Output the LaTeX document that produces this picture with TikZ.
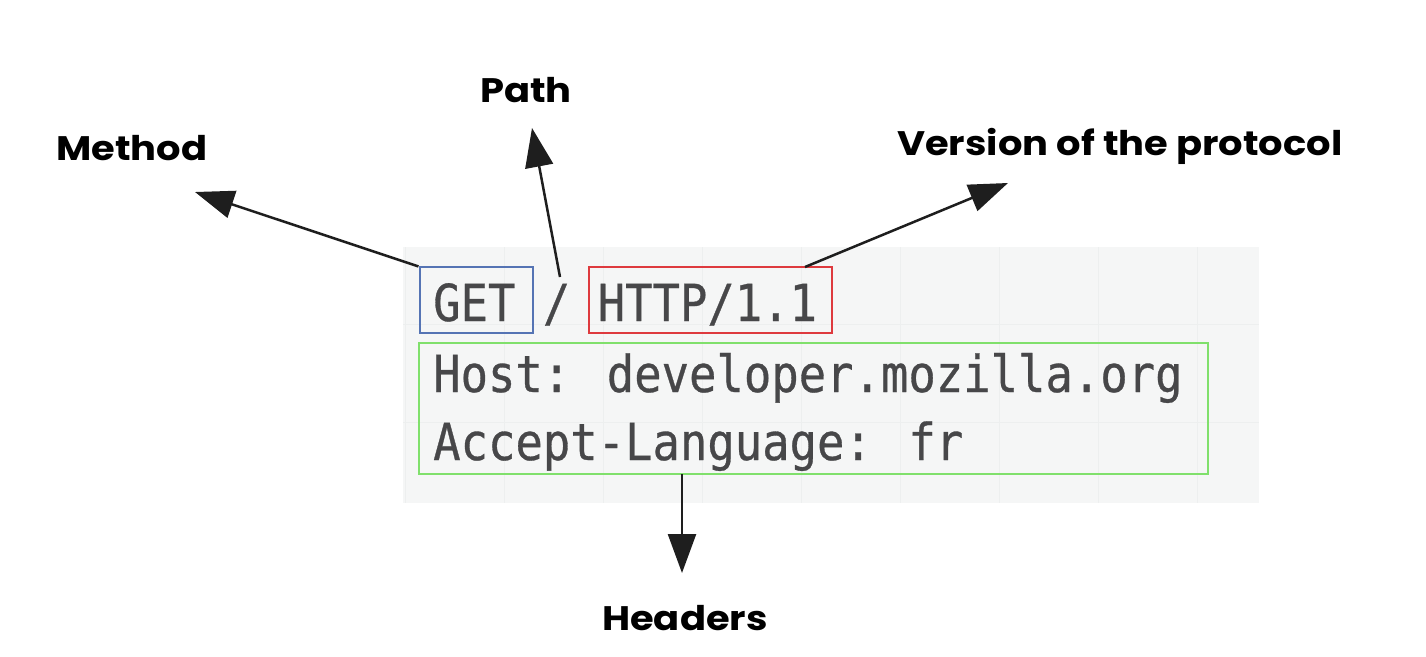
\documentclass[tikz,border=0pt]{standalone}
\usepackage{fontspec}
\usetikzlibrary{arrows.meta}
\newfontfamily\codefont[FakeStretch=0.893,FakeBold=0.6]{DejaVu Sans Mono}
\newfontfamily\labelfont[FakeStretch=1.13]{Poppins Bold}
\definecolor{panelbg}{HTML}{F5F6F6}
\definecolor{gridln}{HTML}{EDEFEF}
\definecolor{codegray}{HTML}{474749}
\definecolor{boxblue}{HTML}{5574B4}
\definecolor{boxred}{HTML}{DE3A3E}
\definecolor{boxgreen}{HTML}{80E06C}
\definecolor{arrowc}{HTML}{1E1E1E}
\tikzset{
  codetext/.style={anchor=base west, inner sep=0pt, text=codegray,
    font=\codefont\fontsize{51}{51}\selectfont},
  lbl/.style={anchor=base west, inner sep=0pt, text=black,
    font=\labelfont\fontsize{34}{34}\selectfont},
  hlbox/.style={draw=#1, line width=2pt, rectangle, inner sep=0pt},
  pointer/.style={draw=arrowc, line width=2.5pt,
    -{Triangle[length=39pt,width=28pt]}}
}
\begin{document}
\begin{tikzpicture}[x=1pt,y=-1pt]
\useasboundingbox (0,0) rectangle (1426,656);
% code panel with faint grid
\fill[panelbg] (403,247) rectangle (1259,503);
\begin{scope}
\clip (403,247) rectangle (1259,503);
\foreach \gx in {405,504,603,702,801,900,999,1098,1197}
  \draw[gridln, line width=1pt] (\gx,247) -- (\gx,503);
\foreach \gy in {324,422}
  \draw[gridln, line width=1pt] (403,\gy) -- (1259,\gy);
\end{scope}
% highlight boxes
\node[hlbox=boxblue, minimum width=113pt, minimum height=65.5pt] (getbox) at (476,300.2) {};
\node[hlbox=boxred, minimum width=243pt, minimum height=65.5pt] (httpbox) at (710,300.2) {};
\node[hlbox=boxgreen, minimum width=789pt, minimum height=131pt] (hdrbox) at (813.5,408.5) {};
% code text
\node[codetext] (line1) at (433,321) {GET / HTTP/1.1};
\node[codetext] (line2) at (433,392) {Host: developer.mozilla.org};
\node[codetext] (line3) at (433,460) {Accept-Language: fr};
% labels
\node[lbl] (method) at (56,160) {Method};
\node[lbl] (path) at (480,102) {Path};
\node[lbl] (version) at (897,155) {Version of the protocol};
\node[lbl] (headers) at (602,630) {Headers};
% connector end points
\coordinate (mtip) at (195,192);
\coordinate (pstart) at (560,277);
\coordinate (ptip) at (532,128);
\coordinate (vstart) at (805,267);
\coordinate (vtip) at (1008,183);
\coordinate (hstart) at (682,474);
\coordinate (htip) at (682,573);
% connectors
\draw[pointer] (getbox.north west) -- (mtip);
\draw[pointer] (pstart) -- (ptip);
\draw[pointer] (vstart) -- (vtip);
\draw[pointer] (hstart) -- (htip);
\end{tikzpicture}
\end{document}
